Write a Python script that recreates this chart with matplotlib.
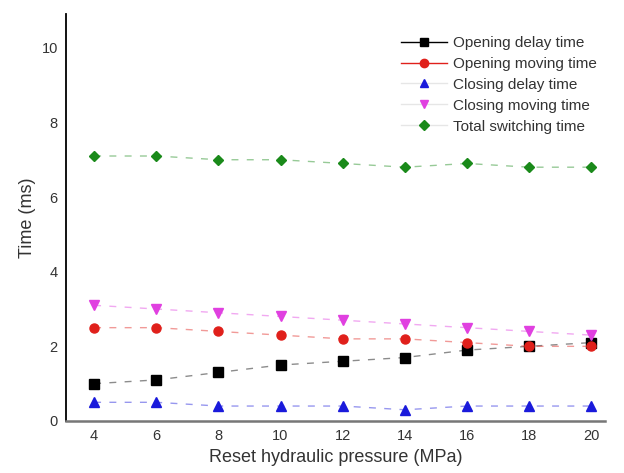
import matplotlib
matplotlib.use("Agg")
import matplotlib.pyplot as plt

pressure = [4, 6, 8, 10, 12, 14, 16, 18, 20]
opening_delay = [1.0, 1.1, 1.3, 1.5, 1.6, 1.7, 1.9, 2.0, 2.1]
opening_moving = [2.5, 2.5, 2.4, 2.3, 2.2, 2.2, 2.1, 2.0, 2.0]
closing_delay = [0.5, 0.5, 0.4, 0.4, 0.4, 0.3, 0.4, 0.4, 0.4]
closing_moving = [3.1, 3.0, 2.9, 2.8, 2.7, 2.6, 2.5, 2.4, 2.3]
total_switching = [7.1, 7.1, 7.0, 7.0, 6.9, 6.8, 6.9, 6.8, 6.8]

series = [
    ("Opening delay time", opening_delay, "black", "s"),
    ("Opening moving time", opening_moving, "#e0201b", "o"),
    ("Closing delay time", closing_delay, "#1a1adb", "^"),
    ("Closing moving time", closing_moving, "#e040e0", "v"),
    ("Total switching time", total_switching, "#1a8a1a", "D"),
]

plt.rcParams["font.family"] = ["Liberation Sans", "DejaVu Sans"]

fig = plt.figure(figsize=(6.24, 4.73), dpi=100)
ax = fig.add_axes([0.106, 0.11, 0.864, 0.86])

for i, (label, vals, color, marker) in enumerate(series):
    ms = 5.5 if marker == "D" else 6.5
    ax.plot(pressure, vals, color=color, lw=1.0, ls=(0, (5, 6)), alpha=0.45)
    ax.plot(pressure, vals, color=color, lw=0, marker=marker, ms=ms)
    # legend proxy: first two show a visible line, the rest only faintly
    ax.plot([], [], color=color, lw=1.0, marker=marker, ms=ms - 0.5,
            label=label, alpha=1.0 if i < 2 else 0.15,
            markerfacecolor=color, markeredgecolor=color)

ax.set_xlim(3.1, 20.45)
ax.set_ylim(0, 10.9)
ax.set_xticks(pressure)
ax.set_yticks([0, 2, 4, 6, 8, 10])
ax.tick_params(length=0, labelsize=10.5, colors="#333333", pad=6)
for s in ("top", "right"):
    ax.spines[s].set_visible(False)
ax.spines["left"].set_color("black")
ax.spines["left"].set_linewidth(1.3)
ax.spines["bottom"].set_color("#777777")
ax.spines["bottom"].set_linewidth(1.8)

ax.set_xlabel("Reset hydraulic pressure (MPa)", fontsize=13, color="#333333")
ax.set_ylabel("Time (ms)", fontsize=13, color="#333333")

leg = ax.legend(loc="upper right", bbox_to_anchor=(1.01, 0.98), frameon=False,
                fontsize=11, handlelength=3.0, labelspacing=0.45,
                handletextpad=0.4, labelcolor="#333333")
for h in leg.legend_handles:
    h.set_alpha(None)
for h, (_, _, color, _) in zip(leg.legend_handles[2:], series[2:]):
    h.set_color((0.9, 0.9, 0.9))
    h.set_markerfacecolor(color)
    h.set_markeredgecolor(color)

fig.savefig("out.png", dpi=100)
